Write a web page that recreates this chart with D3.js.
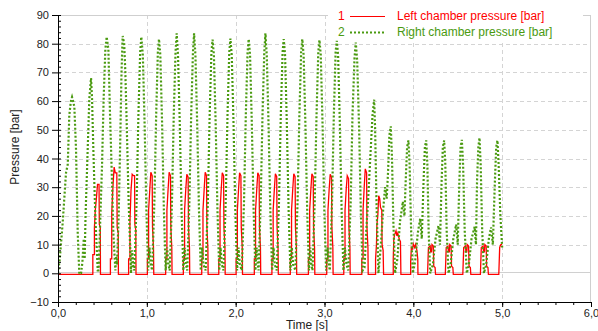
<!DOCTYPE html>
<html>
<head>
<meta charset="utf-8">
<script src="https://cdn.jsdelivr.net/npm/d3@7"></script>
<style>
  body { margin: 0; background: #fff; }
  svg { display: block; font-family: "Liberation Sans", Arial, sans-serif; }
  .axis path, .axis line { stroke: #000; }
  .axis text { fill: #222; font-size: 11px; }
</style>
</head>
<body>
<div id="chart"></div>
<script>
// data
var timeTicks = [0, 1, 2, 3, 4, 5, 6];
var pressureTicks = [-10, 0, 10, 20, 30, 40, 50, 60, 70, 80, 90];
var legendLabels = ['Left chamber pressure [bar]', 'Right chamber pressure [bar]'];

// [time s, pressure bar]
var leftPressure = [
  [0, -0.4], [0.392, -0.4],
  [0.392, 6.5], [0.41, 6.5], [0.41, 16], [0.42, 22], [0.432, 26], [0.445, 31], [0.462, 31], [0.465, 17], [0.476, 16], [0.478, -0.4],
  [0.59, -0.4], [0.59, 5], [0.605, 5], [0.605, 21], [0.62, 31], [0.632, 37], [0.645, 35], [0.662, 35], [0.666, 16], [0.678, 14], [0.68, -0.4],
  [0.795, -0.4], [0.795, 5], [0.81, 5], [0.81, 18], [0.822, 29], [0.835, 34.5], [0.85, 34], [0.862, 34], [0.865, 17], [0.876, 15], [0.878, -0.4],
  [1.006, -0.4], [1.006, 5], [1.02, 5], [1.02, 22], [1.033, 29], [1.045, 35.2], [1.06, 34], [1.064, 16], [1.075, 9], [1.078, -0.4],
  [1.212, -0.4], [1.212, 5], [1.226, 5], [1.226, 22], [1.239, 29], [1.251, 35.2], [1.266, 34], [1.27, 16], [1.281, 9], [1.284, -0.4],
  [1.411, -0.4], [1.411, 5], [1.425, 5], [1.425, 22], [1.438, 29], [1.45, 34.5], [1.465, 33.5], [1.469, 16], [1.48, 9], [1.483, -0.4],
  [1.618, -0.4], [1.618, 5], [1.632, 5], [1.632, 22], [1.645, 29], [1.657, 35.2], [1.672, 34], [1.676, 16], [1.687, 9], [1.69, -0.4],
  [1.81, -0.4], [1.81, 5], [1.824, 5], [1.824, 22], [1.837, 29], [1.849, 35], [1.864, 34], [1.868, 16], [1.879, 9], [1.882, -0.4],
  [2.005, -0.4], [2.005, 5], [2.019, 5], [2.019, 22], [2.032, 29], [2.044, 35], [2.059, 34], [2.063, 16], [2.074, 9], [2.077, -0.4],
  [2.21, -0.4], [2.21, 5], [2.224, 5], [2.224, 22], [2.237, 29], [2.249, 35], [2.264, 34], [2.268, 16], [2.279, 9], [2.282, -0.4],
  [2.408, -0.4], [2.408, 5], [2.422, 5], [2.422, 22], [2.435, 29], [2.447, 34.7], [2.462, 33.7], [2.466, 16], [2.477, 9], [2.48, -0.4],
  [2.615, -0.4], [2.615, 5], [2.629, 5], [2.629, 22], [2.642, 29], [2.654, 34.7], [2.669, 33.7], [2.673, 16], [2.684, 9], [2.687, -0.4],
  [2.819, -0.4], [2.819, 5], [2.833, 5], [2.833, 22], [2.846, 29], [2.858, 34.7], [2.873, 33.7], [2.877, 16], [2.888, 9], [2.891, -0.4],
  [3.025, -0.4], [3.025, 5], [3.039, 5], [3.039, 22], [3.052, 29], [3.064, 34.5], [3.079, 33.5], [3.083, 16], [3.094, 9], [3.097, -0.4],
  [3.217, -0.4], [3.217, 5], [3.231, 5], [3.231, 22], [3.244, 29], [3.256, 34], [3.271, 33], [3.275, 16], [3.286, 9], [3.289, -0.4],
  [3.42, -0.4], [3.42, 5], [3.434, 5], [3.434, 22], [3.447, 30], [3.459, 36.4], [3.474, 35], [3.478, 16], [3.489, 9], [3.492, -0.4],
  [3.575, -0.4], [3.575, 5], [3.585, 10], [3.59, 17], [3.6, 20], [3.61, 27], [3.622, 26], [3.63, 23], [3.645, 22], [3.648, 10], [3.66, 8], [3.665, -0.4],
  [3.774, -0.4], [3.774, 5], [3.78, 12], [3.79, 13.5], [3.805, 14.8], [3.815, 13], [3.825, 14], [3.84, 12], [3.855, 11], [3.86, -0.4],
  [3.97, -0.4], [3.97, 4], [3.978, 9], [3.99, 8.5], [4.0, 10.2], [4.015, 9], [4.025, 10], [4.04, 8], [4.05, 5], [4.052, -0.4],
  [4.16, -0.4], [4.17, 9], [4.19, 9.5], [4.195, 7.5], [4.205, 7.5], [4.21, 10], [4.225, 9.5], [4.23, 2.5], [4.245, 2], [4.25, -0.4],
  [4.36, -0.4], [4.37, 9], [4.39, 9.5], [4.395, 7.5], [4.405, 7.5], [4.41, 10], [4.425, 9.5], [4.43, 2.5], [4.445, 2], [4.45, -0.4],
  [4.557, -0.4], [4.567, 9], [4.587, 9.5], [4.592, 7.5], [4.602, 7.5], [4.607, 10], [4.622, 9.5], [4.627, 2.5], [4.642, 2], [4.647, -0.4],
  [4.755, -0.4], [4.765, 9], [4.785, 9.5], [4.79, 7.5], [4.8, 7.5], [4.805, 10], [4.82, 9.5], [4.825, 2.5], [4.84, 2], [4.845, -0.4],
  [4.962, -0.4], [4.972, 9], [4.985, 10], [5.0, 10]
];

var rightPressure = [
  [0, 0], [0.02, 5], [0.053, 17.7], [0.09, 35], [0.11, 38], [0.127, 55], [0.145, 60], [0.158, 61.4], [0.17, 60], [0.184, 58], [0.203, 43], [0.222, 14], [0.24, -0.3],
  [0.26, 0], [0.275, 4], [0.29, 12], [0.3, 5],
  [0.31, 20], [0.334, 43], [0.353, 61], [0.372, 68], [0.383, 61], [0.398, 43], [0.42, 20], [0.447, 1],
  [0.455, 1], [0.46, 3], [0.477, 20], [0.495, 37], [0.514, 61], [0.533, 78], [0.548, 82.4], [0.567, 78], [0.586, 55], [0.608, 32], [0.623, 14], [0.646, 1],
  [0.655, 6], [0.664, 3], [0.683, 20], [0.7, 45], [0.715, 70], [0.728, 82.7], [0.745, 80], [0.758, 70], [0.775, 50], [0.795, 25], [0.822, 0],
  [0.835, 8], [0.845, 3],
  [0.86, 1], [0.885, 25], [0.905, 55], [0.925, 77], [0.938, 82.4], [0.955, 76], [0.975, 52], [0.995, 22], [1.015, 1],
  [1.03, 9], [1.045, 3],
  [1.06, 1], [1.085, 25], [1.105, 55], [1.124, 77], [1.137, 81.6], [1.152, 76], [1.172, 52], [1.192, 22], [1.212, 1],
  [1.228, 9], [1.243, 3],
  [1.258, 1], [1.283, 25], [1.303, 55], [1.323, 77], [1.336, 83.6], [1.351, 76], [1.371, 52], [1.391, 22], [1.411, 1],
  [1.425, 9], [1.44, 3],
  [1.455, 1], [1.479, 25], [1.499, 55], [1.519, 77], [1.532, 83.6], [1.547, 76], [1.567, 52], [1.587, 22], [1.607, 1],
  [1.622, 9], [1.637, 3],
  [1.662, 1], [1.687, 25], [1.707, 55], [1.727, 77], [1.74, 81.4], [1.755, 76], [1.775, 52], [1.795, 22], [1.815, 1],
  [1.83, 9], [1.845, 3],
  [1.863, 1], [1.888, 25], [1.908, 55], [1.928, 77], [1.941, 81.8], [1.956, 76], [1.976, 52], [1.996, 22], [2.016, 1],
  [2.032, 9], [2.047, 3],
  [2.069, 1], [2.094, 25], [2.114, 55], [2.134, 77], [2.147, 81.6], [2.162, 76], [2.182, 52], [2.202, 22], [2.222, 1],
  [2.236, 9], [2.25, 3],
  [2.258, 1], [2.282, 25], [2.302, 55], [2.322, 77], [2.335, 83.6], [2.35, 76], [2.37, 52], [2.39, 22], [2.41, 1],
  [2.426, 9], [2.44, 3],
  [2.463, 1], [2.488, 25], [2.508, 55], [2.528, 77], [2.541, 81.6], [2.556, 76], [2.576, 52], [2.596, 22], [2.616, 1],
  [2.632, 9], [2.647, 3],
  [2.672, 1], [2.697, 25], [2.717, 55], [2.737, 77], [2.75, 81.6], [2.765, 76], [2.785, 52], [2.805, 22], [2.825, 1],
  [2.84, 9], [2.852, 3],
  [2.865, 1], [2.89, 25], [2.91, 55], [2.93, 77], [2.943, 81.3], [2.958, 76], [2.978, 52], [2.998, 22], [3.018, 1],
  [3.034, 9], [3.048, 3],
  [3.06, 1], [3.085, 25], [3.105, 55], [3.125, 77], [3.138, 81], [3.153, 76], [3.173, 52], [3.193, 22], [3.213, 1],
  [3.23, 9], [3.248, 3],
  [3.268, 1], [3.295, 25], [3.315, 55], [3.338, 75], [3.352, 80.4], [3.368, 74], [3.39, 50], [3.41, 20], [3.43, 1],
  [3.45, 2], [3.47, 15], [3.49, 25], [3.515, 40], [3.54, 55], [3.559, 60.5], [3.57, 50], [3.585, 25], [3.607, 0],
  [3.63, 8], [3.66, 22], [3.682, 30], [3.7, 26], [3.715, 35], [3.73, 48], [3.746, 51.2], [3.76, 40], [3.775, 18], [3.795, 0],
  [3.82, 5], [3.85, 18], [3.882, 25], [3.9, 20], [3.915, 33], [3.93, 44], [3.945, 46.3], [3.958, 38], [3.975, 15], [3.994, 0],
  [4.02, 4], [4.05, 14], [4.077, 19], [4.095, 12], [4.115, 32], [4.13, 44], [4.145, 46.3], [4.158, 38], [4.172, 15], [4.19, 0],
  [4.22, 3], [4.25, 12], [4.283, 16.6], [4.3, 10], [4.318, 32], [4.332, 44], [4.347, 46.3], [4.36, 38], [4.375, 15], [4.396, 0],
  [4.42, 3], [4.45, 12], [4.482, 17], [4.5, 10], [4.518, 32], [4.532, 44], [4.546, 46.5], [4.56, 38], [4.578, 15], [4.602, 0],
  [4.625, 3], [4.655, 12], [4.69, 16.2], [4.705, 10], [4.717, 32], [4.732, 44], [4.745, 47.2], [4.758, 38], [4.775, 15], [4.795, 0],
  [4.82, 3], [4.85, 12], [4.875, 16], [4.895, 10], [4.918, 32], [4.933, 44], [4.947, 46.3], [4.96, 38], [4.98, 20], [5.0, 9]
];

var redColor = '#ff0000';
var greenColor = '#4a9a10';

// dimensions
var dimensions = {
  width: 598,
  height: 331,
  margin: { top: 15, right: 7, bottom: 29, left: 58 }
};
dimensions.containerWidth = dimensions.width - dimensions.margin.left - dimensions.margin.right;
dimensions.containerHeight = dimensions.height - dimensions.margin.top - dimensions.margin.bottom;

var svg = d3.select('#chart')
  .append('svg')
  .attr('width', dimensions.width)
  .attr('height', dimensions.height);

var container = svg.append('g')
  .attr('transform', 'translate(' + dimensions.margin.left + ',' + dimensions.margin.top + ')');

// scales
var xScale = d3.scaleLinear()
  .domain([0, 6])
  .range([0, dimensions.containerWidth]);

var yScale = d3.scaleLinear()
  .domain([-10, 90])
  .range([dimensions.containerHeight, 0]);

var commaFormat = d3.formatLocale({ decimal: ',', thousands: '.', grouping: [3], currency: ['', ''] }).format('.1f');

// grid
container.append('g')
  .selectAll('line')
  .data(pressureTicks.filter(d => d > -10 && d < 90 && d !== 0))
  .join('line')
  .attr('x1', 0)
  .attr('x2', dimensions.containerWidth)
  .attr('y1', d => Math.round(yScale(d)) + 0.5)
  .attr('y2', d => Math.round(yScale(d)) + 0.5)
  .attr('stroke', '#d4d4d4')
  .attr('stroke-dasharray', '4,3');

container.append('g')
  .selectAll('line')
  .data(timeTicks.filter(d => d > 0 && d < 6))
  .join('line')
  .attr('x1', d => Math.round(xScale(d)) + 0.5)
  .attr('x2', d => Math.round(xScale(d)) + 0.5)
  .attr('y1', 0)
  .attr('y2', dimensions.containerHeight)
  .attr('stroke', '#d4d4d4')
  .attr('stroke-dasharray', '4,3');

// zero line, top and right frame
container.append('line')
  .attr('x1', 0).attr('x2', dimensions.containerWidth)
  .attr('y1', Math.round(yScale(0)) - 0.5).attr('y2', Math.round(yScale(0)) - 0.5)
  .attr('stroke', '#d0d0d0');

container.append('line')
  .attr('x1', 0).attr('x2', dimensions.containerWidth)
  .attr('y1', 0.5).attr('y2', 0.5)
  .attr('stroke', '#cfcfcf');

container.append('line')
  .attr('x1', dimensions.containerWidth - 0.5).attr('x2', dimensions.containerWidth - 0.5)
  .attr('y1', 0).attr('y2', dimensions.containerHeight)
  .attr('stroke', '#cfcfcf');

// lines
svg.append('clipPath')
  .attr('id', 'plot-clip')
  .append('rect')
  .attr('x', 0).attr('y', 0)
  .attr('width', dimensions.containerWidth)
  .attr('height', dimensions.containerHeight);

var line = d3.line()
  .x(d => xScale(d[0]))
  .y(d => yScale(d[1]));

var plot = container.append('g').attr('clip-path', 'url(#plot-clip)');

plot.append('path')
  .datum(leftPressure)
  .attr('fill', 'none')
  .attr('stroke', redColor)
  .attr('stroke-width', 1.3)
  .attr('d', line);

plot.append('path')
  .datum(rightPressure)
  .attr('fill', 'none')
  .attr('stroke', greenColor)
  .attr('stroke-width', 2.2)
  .attr('stroke-dasharray', '2,2')
  .attr('d', line);

// axes
var xAxisGroup = container.append('g')
  .attr('transform', 'translate(0,' + dimensions.containerHeight + ')')
  .classed('axis', true)
  .call(d3.axisBottom(xScale).tickValues(timeTicks).tickSize(5).tickPadding(2).tickFormat(commaFormat));

container.append('g')
  .attr('transform', 'translate(0,' + dimensions.containerHeight + ')')
  .classed('axis', true)
  .call(d3.axisBottom(xScale).tickValues(d3.range(0, 6.01, 0.2)).tickSize(3).tickFormat(''))
  .select('.domain').remove();

var yAxisGroup = container.append('g')
  .classed('axis', true)
  .call(d3.axisLeft(yScale).tickValues(pressureTicks).tickSize(6).tickPadding(3));

container.append('g')
  .classed('axis', true)
  .call(d3.axisRight(yScale).tickValues(d3.range(-10, 90.1, 2)).tickSize(3).tickFormat(''))
  .select('.domain').remove();

xAxisGroup.append('text')
  .attr('x', 249)
  .attr('y', 27)
  .attr('fill', '#222')
  .style('font-size', '12px')
  .style('text-anchor', 'middle')
  .text('Time [s]');

yAxisGroup.append('text')
  .attr('transform', 'translate(-39,' + 132 + ') rotate(-90)')
  .attr('fill', '#222')
  .style('font-size', '12px')
  .style('text-anchor', 'middle')
  .text('Pressure [bar]');

// legend
var legend = svg.append('g');

legend.append('rect')
  .attr('x', 328).attr('y', 4)
  .attr('width', 255).attr('height', 36)
  .attr('fill', '#fff');

var legendItems = legend.selectAll('g.item')
  .data(legendLabels)
  .join('g')
  .attr('class', 'item')
  .attr('transform', (d, i) => 'translate(0,' + (i * 16) + ')');

legendItems.append('text')
  .attr('x', 338).attr('y', 20)
  .attr('fill', (d, i) => i === 0 ? redColor : greenColor)
  .style('font-size', '12px')
  .text((d, i) => i + 1);

legendItems.append('line')
  .attr('x1', 350).attr('x2', 385)
  .attr('y1', 16.5).attr('y2', 16.5)
  .attr('stroke', (d, i) => i === 0 ? redColor : greenColor)
  .attr('stroke-width', (d, i) => i === 0 ? 1.2 : 2)
  .attr('stroke-dasharray', (d, i) => i === 0 ? null : '2,2');

legendItems.append('text')
  .attr('x', 397).attr('y', 20)
  .attr('fill', (d, i) => i === 0 ? redColor : greenColor)
  .style('font-size', '12px')
  .text(d => d);
</script>
</body>
</html>
